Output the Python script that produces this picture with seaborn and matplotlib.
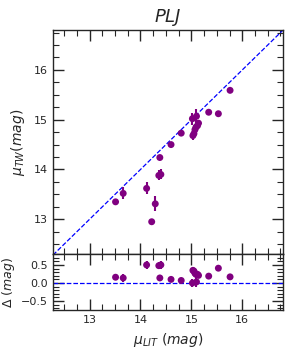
import numpy as np
import pandas as pd
import matplotlib
matplotlib.use('Agg')
import matplotlib.pyplot as plt
from matplotlib.ticker import MultipleLocator
import seaborn as sns

# distance moduli: literature vs this work
mu_lit = [13.51, 13.66, 14.12, 14.22, 14.29, 14.38, 14.36, 14.40, 14.60, 14.80,
          15.02, 15.03, 15.05, 15.07, 15.09, 15.10, 15.12, 15.14, 15.34, 15.53, 15.76]
mu_tw = [13.35, 13.52, 13.62, 12.95, 13.31, 14.24, 13.88, 13.90, 14.50, 14.73,
         15.02, 14.68, 14.72, 14.80, 14.85, 15.07, 14.88, 14.93, 15.15, 15.12, 15.59]
mu_tw_err = [0.03, 0.12, 0.12, 0.03, 0.15, 0.03, 0.10, 0.10, 0.03, 0.03,
             0.12, 0.08, 0.06, 0.08, 0.08, 0.15, 0.08, 0.05, 0.05, 0.03, 0.03]

df = pd.DataFrame({'lit': mu_lit, 'tw': mu_tw, 'err': mu_tw_err})
df['delta'] = df['lit'] - df['tw']

sns.set_style('ticks')
plt.rcParams['font.family'] = ['DejaVu Sans']

fig = plt.figure(figsize=(2.91, 3.5), dpi=100)
gs = fig.add_gridspec(2, 1, height_ratios=[4, 1], hspace=0,
                      left=0.182, right=0.9725, top=0.914, bottom=0.114)
ax = fig.add_subplot(gs[0])
axr = fig.add_subplot(gs[1], sharex=ax)

xlim = (12.28, 16.8)
ax.plot(xlim, xlim, ls='--', color='blue', lw=0.9)
ax.errorbar(df['lit'], df['tw'], yerr=df['err'], fmt='none', ecolor='purple', elinewidth=1.5)
sns.scatterplot(data=df, x='lit', y='tw', ax=ax, color='purple', s=25, edgecolor='none', zorder=3)
ax.set_xlim(xlim)
ax.set_ylim(12.3, 16.8)
ax.set_title('$PLJ$', fontsize=13)
ax.set_xlabel('')
ax.set_ylabel('$\\mu_{TW}(mag)$', fontsize=10)
ax.yaxis.set_label_coords(-0.115, 0.5)
plt.setp(ax.get_xticklabels(), visible=False)

axr.axhline(0, ls='--', color='blue', lw=0.9)
axr.errorbar(df['lit'], df['delta'], yerr=df['err'], fmt='none', ecolor='purple', elinewidth=1.5)
sns.scatterplot(data=df, x='lit', y='delta', ax=axr, color='purple', s=25, edgecolor='none', zorder=3)
axr.set_ylim(-0.75, 0.8)
axr.set_xlabel('$\\mu_{LIT}$ $(mag)$', fontsize=10)
axr.set_ylabel('$\\Delta$ $(mag)$', fontsize=9)
axr.yaxis.set_label_coords(-0.155, 0.5)

ax.xaxis.set_major_locator(MultipleLocator(1))
ax.xaxis.set_minor_locator(MultipleLocator(0.25))
ax.yaxis.set_major_locator(MultipleLocator(1))
ax.yaxis.set_minor_locator(MultipleLocator(0.25))
axr.yaxis.set_major_locator(MultipleLocator(0.5))
axr.yaxis.set_minor_locator(MultipleLocator(0.1))

for a in (ax, axr):
    a.tick_params(which='both', direction='in', top=True, right=True, labelsize=8)
    a.tick_params(which='major', length=8, width=1)
    a.tick_params(which='minor', length=4, width=0.8)
    for s in a.spines.values():
        s.set_linewidth(1)
        s.set_visible(True)

fig.savefig('out.png', dpi=100)
